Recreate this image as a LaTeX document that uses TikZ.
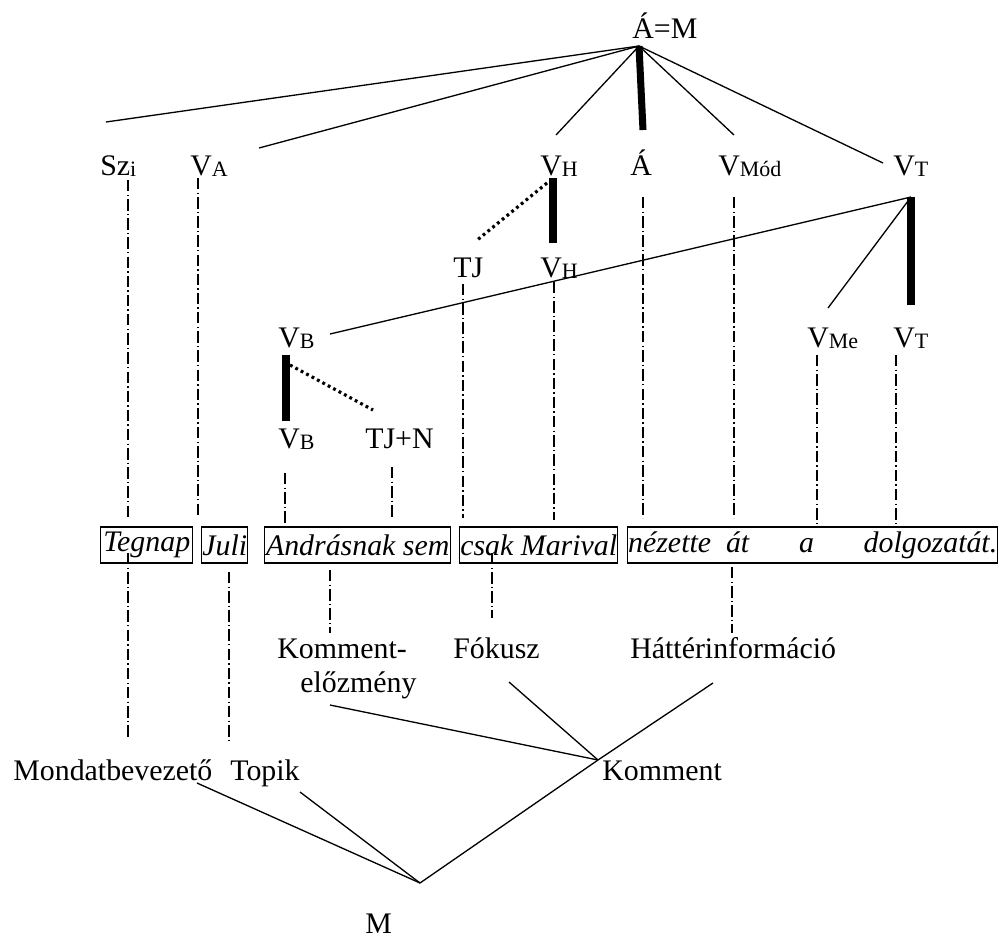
\documentclass[tikz,border=0pt]{standalone}
\usepackage{fontspec}
\setmainfont{Liberation Serif}
\newcommand{\lowidx}[1]{\raisebox{-1pt}{\fontsize{12.5}{12.5}\selectfont #1}}

\begin{document}
\begin{tikzpicture}[x=0.02cm,y=-0.02cm,
  lbl/.style={anchor=base west,inner sep=0pt,font=\fontsize{17}{20}\selectfont},
  word/.style={draw,line width=0.85pt,anchor=west,inner sep=0pt,minimum height=0.72cm,
    font=\fontsize{17}{20}\selectfont\itshape},
  branch/.style={line width=0.75pt},
  headline/.style={line width=4pt},
  dotbranch/.style={line width=1.8pt,dash pattern=on 1.6pt off 1.9pt},
  proj/.style={line width=0.75pt,dash pattern=on 6.5pt off 1.8pt on 0.8pt off 1.8pt}]
  \useasboundingbox (0,0) rectangle (998,938);

  % labels of the upper tree
  \node[lbl] (am) at (632,38) {Á=M};
  \node[lbl] (szi) at (100,175) {Sz\lowidx{i}};
  \node[lbl] (va) at (190,175) {V\lowidx{A}};
  \node[lbl] (vh) at (540,175) {V\lowidx{H}};
  \node[lbl] (aa) at (630,175) {Á};
  \node[lbl] (vmod) at (718,175) {V\lowidx{Mód}};
  \node[lbl] (vt) at (893,175) {V\lowidx{T}};
  \node[lbl] (tj) at (453,277) {TJ};
  \node[lbl] (vh2) at (540,277) {V\lowidx{H}};
  \node[lbl] (vb) at (278,347) {V\lowidx{B}};
  \node[lbl] (vme) at (807,347) {V\lowidx{Me}};
  \node[lbl] (vt2) at (893,347) {V\lowidx{T}};
  \node[lbl] (vb2) at (278,448) {V\lowidx{B}};
  \node[lbl] (tjn) at (365,448) {TJ+N};

  % the sentence
  \node[word,minimum width=1.84cm] (tegnap) at (100,545) {Tegnap};
  \node[word,minimum width=0.92cm] (juli) at (201,545) {Juli};
  \node[word,minimum width=3.72cm] (andras) at (264,545) {Andrásnak sem};
  \node[word,minimum width=3.16cm] (csak) at (459,545) {csak Marival};
  \node[word,minimum width=7.4cm] (nezette) at (627,545)
    {nézette\hspace{8.5pt}át\hspace{28.3pt}a\hspace{28.3pt}dolgozatát.};

  % labels of the lower tree
  \node[lbl] (kel) at (277,658) {Komment-};
  \node[lbl] (kel2) at (300,692) {előzmény};
  \node[lbl] (fok) at (453,658) {Fókusz};
  \node[lbl] (hat) at (630,658) {Háttérinformáció};
  \node[lbl] (mb) at (13,780) {Mondatbevezető};
  \node[lbl] (top) at (230,780) {Topik};
  \node[lbl] (kom) at (602,780) {Komment};
  \node[lbl] (mm) at (365,933) {M};

  % branch ends
  \coordinate (am-f) at (639,46);
  \coordinate (szi-t) at (106,122);
  \coordinate (va-t) at (259,148);
  \coordinate (vh-t) at (556,135);
  \coordinate (aa-t) at (643,130);
  \coordinate (vmod-t) at (734,135);
  \coordinate (vt-t) at (883,163);
  \coordinate (vh-h) at (553,178);
  \coordinate (vh-d) at (547,183);
  \coordinate (vh2-t) at (553,243);
  \coordinate (tj-t) at (476,241);
  \coordinate (vt-h) at (911,197);
  \coordinate (vt2-t) at (911,305);
  \coordinate (vb-t) at (330,334);
  \coordinate (vme-t) at (828,308);
  \coordinate (vb-h) at (286,355);
  \coordinate (vb-d) at (290,365);
  \coordinate (vb2-t) at (286,421);
  \coordinate (tjn-t) at (373,410);
  \coordinate (kel-b) at (330,705);
  \coordinate (fok-b) at (509,682);
  \coordinate (hat-b) at (713,683);
  \coordinate (kom-t) at (598,760);
  \coordinate (mb-b) at (197,783);
  \coordinate (top-b) at (300,792);
  \coordinate (mm-t) at (420,883);

  \foreach \e in {szi-t,va-t,vh-t,vmod-t,vt-t}
    \draw[branch] (am-f) -- (\e);
  \draw[headline] (am-f) -- (aa-t);
  \draw[headline] (vh-h) -- (vh2-t);
  \draw[dotbranch] (vh-d) -- (tj-t);
  \draw[headline] (vt-h) -- (vt2-t);
  \draw[branch] (vt-h) -- (vb-t);
  \draw[branch] (vt-h) -- (vme-t);
  \draw[headline] (vb-h) -- (vb2-t);
  \draw[dotbranch] (vb-d) -- (tjn-t);
  \foreach \e in {kel-b,fok-b,hat-b,mm-t}
    \draw[branch] (kom-t) -- (\e);
  \foreach \e in {mb-b,top-b}
    \draw[branch] (mm-t) -- (\e);

  % projection lines
  \coordinate (szi-p) at (128,180);   \coordinate (tegnap-u) at (128,518);
  \coordinate (va-p) at (198,178);    \coordinate (juli-u) at (198,518);
  \coordinate (aa-p) at (643,197);    \coordinate (ne-u) at (643,518);
  \coordinate (vmod-p) at (734,197);  \coordinate (at-u) at (734,518);
  \coordinate (vh2-p) at (554,282);   \coordinate (mari-u) at (554,520);
  \coordinate (tj-p) at (463,284);    \coordinate (csak-u) at (463,518);
  \coordinate (vb2-p) at (285,473);   \coordinate (andras-u) at (285,527);
  \coordinate (tjn-p) at (392,467);   \coordinate (sem-u) at (392,518);
  \coordinate (vme-p) at (817,355);   \coordinate (a-u) at (817,527);
  \coordinate (vt2-p) at (896,355);   \coordinate (dolg-u) at (896,527);
  \coordinate (tegnap-d) at (128,553); \coordinate (mb-p) at (128,737);
  \coordinate (juli-d) at (229,572);   \coordinate (top-p) at (229,743);
  \coordinate (andras-d) at (330,570); \coordinate (kel-p) at (330,633);
  \coordinate (csak-d) at (492,553);   \coordinate (fok-p) at (492,618);
  \coordinate (nezette-d) at (732,567); \coordinate (hat-p) at (732,633);
  \foreach \a/\b in {szi-p/tegnap-u,va-p/juli-u,aa-p/ne-u,vmod-p/at-u,
      vh2-p/mari-u,tj-p/csak-u,vb2-p/andras-u,tjn-p/sem-u,vme-p/a-u,vt2-p/dolg-u,
      tegnap-d/mb-p,juli-d/top-p,andras-d/kel-p,csak-d/fok-p,nezette-d/hat-p}
    \draw[proj] (\a) -- (\b);
\end{tikzpicture}
\end{document}
